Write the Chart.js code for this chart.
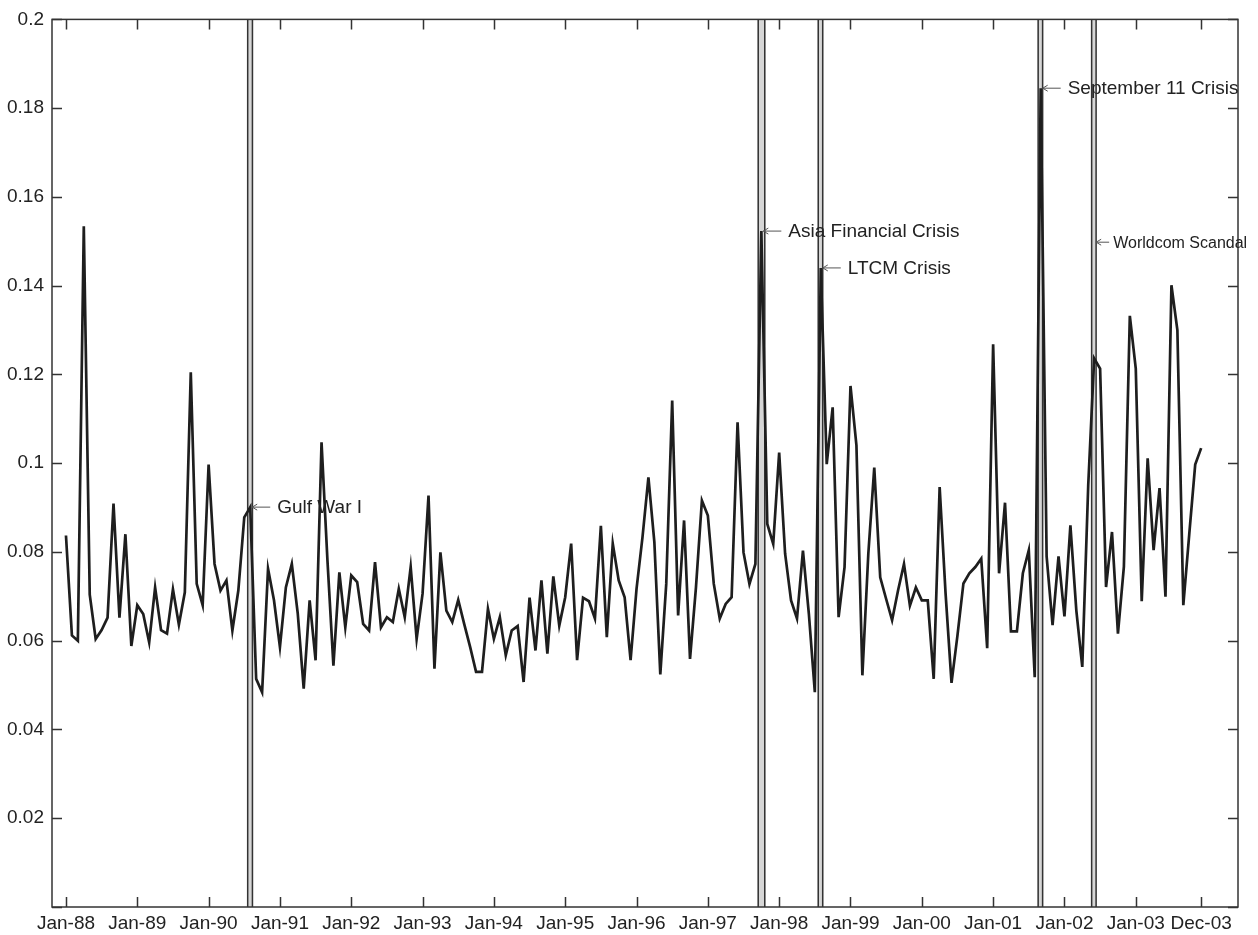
<!DOCTYPE html>
<html>
<head>
<meta charset="utf-8">
<script src="https://cdn.jsdelivr.net/npm/chart.js@4.4.1/dist/chart.umd.min.js"></script>
<style>
body { margin: 0; background: #fff; }
#wrap { width: 1258px; height: 935px; }
</style>
</head>
<body>
<div id="wrap"><canvas id="volChart" width="1258" height="935"></canvas></div>
<script>
// monthly series, Jan-88 .. Dec-03 (192 months)
var vol = [
  0.0837, 0.0612, 0.0600, 0.1534, 0.0704, 0.0604, 0.0624, 0.0652, 0.0909, 0.0652, 0.0840, 0.0588,
  0.0680, 0.0660, 0.0596, 0.0720, 0.0624, 0.0616, 0.0716, 0.0636, 0.0709, 0.1205, 0.0728, 0.0680,
  0.0997, 0.0773, 0.0713, 0.0736, 0.0623, 0.0713, 0.0878, 0.0901, 0.0514, 0.0484, 0.0762, 0.0691,
  0.0586, 0.0720, 0.0773, 0.0661, 0.0492, 0.0691, 0.0556, 0.1047, 0.0780, 0.0544, 0.0754, 0.0630,
  0.0747, 0.0732, 0.0638, 0.0623, 0.0777, 0.0630, 0.0653, 0.0642, 0.0717, 0.0653, 0.0766, 0.0604,
  0.0706, 0.0927, 0.0537, 0.0799, 0.0668, 0.0642, 0.0692, 0.0638, 0.0586, 0.0530, 0.0530, 0.0672,
  0.0604, 0.0653, 0.0567, 0.0623, 0.0633, 0.0507, 0.0697, 0.0578, 0.0736, 0.0571, 0.0745, 0.0634,
  0.0698, 0.0819, 0.0556, 0.0697, 0.0689, 0.0650, 0.0859, 0.0608, 0.0819, 0.0736, 0.0698, 0.0556,
  0.0717, 0.0833, 0.0968, 0.0822, 0.0524, 0.0728, 0.1141, 0.0657, 0.0871, 0.0559, 0.0720, 0.0916,
  0.0882, 0.0728, 0.0650, 0.0683, 0.0698, 0.1092, 0.0799, 0.0728, 0.0773, 0.1523, 0.0863, 0.0818,
  0.1024, 0.0796, 0.0691, 0.0650, 0.0803, 0.0660, 0.0484, 0.1440, 0.0998, 0.1126, 0.0653, 0.0766,
  0.1174, 0.1040, 0.0522, 0.0796, 0.0990, 0.0743, 0.0694, 0.0646, 0.0713, 0.0773, 0.0679, 0.0720,
  0.0691, 0.0691, 0.0514, 0.0946, 0.0706, 0.0505, 0.0612, 0.0729, 0.0752, 0.0766, 0.0785, 0.0583,
  0.1268, 0.0752, 0.0911, 0.0621, 0.0621, 0.0752, 0.0804, 0.0518, 0.1845, 0.0790, 0.0635, 0.0790,
  0.0655, 0.0860, 0.0668, 0.0541, 0.0950, 0.1236, 0.1213, 0.0721, 0.0845, 0.0616, 0.0767, 0.1332,
  0.1213, 0.0689, 0.1011, 0.0804, 0.0944, 0.0699, 0.1401, 0.1300, 0.0680, 0.0840, 0.0997, 0.1034
];

var tickMonths = [0, 12, 24, 36, 48, 60, 72, 84, 96, 108, 120, 132, 144, 156, 168, 180, 191];
var tickLabels = ["Jan-88", "Jan-89", "Jan-90", "Jan-91", "Jan-92", "Jan-93", "Jan-94", "Jan-95",
                  "Jan-96", "Jan-97", "Jan-98", "Jan-99", "Jan-00", "Jan-01", "Jan-02", "Jan-03", "Dec-03"];

// crisis windows (month index)
var bandStart = [30.45, 116.35, 126.45, 163.45, 172.45];
var bandEnd = [31.5, 117.7, 127.45, 164.45, 173.45];

var eventNames = ["Gulf War I", "Asia Financial Crisis", "LTCM Crisis", "September 11 Crisis", "Worldcom Scandal"];
var eventMonth = [31, 117, 127, 164, 173];
var eventLevel = [0.0901, 0.1523, 0.144, 0.1845, 0.1498];

var FONT = '"Liberation Sans", Arial, Helvetica, sans-serif';
var INK = '#222';

var points = vol.map(function (v, i) { return { x: i, y: v }; });

var framePlugin = {
  id: 'frame',
  beforeDatasetsDraw: function (chart) {
    var ctx = chart.ctx, a = chart.chartArea, xs = chart.scales.x;
    ctx.save();
    for (var i = 0; i < bandStart.length; i++) {
      var x0 = xs.getPixelForValue(bandStart[i]);
      var x1 = xs.getPixelForValue(bandEnd[i]);
      ctx.fillStyle = '#d6d6d6';
      ctx.fillRect(x0, a.top, x1 - x0, a.bottom - a.top);
      ctx.strokeStyle = '#333';
      ctx.lineWidth = 1.5;
      ctx.beginPath();
      ctx.moveTo(x0 + 0.75, a.top); ctx.lineTo(x0 + 0.75, a.bottom);
      ctx.moveTo(x1 - 0.75, a.top); ctx.lineTo(x1 - 0.75, a.bottom);
      ctx.stroke();
    }
    ctx.restore();
  },
  afterDraw: function (chart, args, opts) {
    var ctx = chart.ctx, a = chart.chartArea;
    var xs = chart.scales.x, ys = chart.scales.y;
    var tl = 10;
    ctx.save();
    ctx.strokeStyle = '#333';
    ctx.lineWidth = 1.5;
    ctx.strokeRect(a.left, a.top, a.right - a.left, a.bottom - a.top);
    ctx.beginPath();
    ys.ticks.forEach(function (t) {
      var y = Math.round(ys.getPixelForValue(t.value)) + 0.5;
      ctx.moveTo(a.left, y); ctx.lineTo(a.left + tl, y);
      ctx.moveTo(a.right, y); ctx.lineTo(a.right - tl, y);
    });
    tickMonths.forEach(function (m) {
      var x = Math.round(xs.getPixelForValue(m)) + 0.5;
      ctx.moveTo(x, a.bottom); ctx.lineTo(x, a.bottom - tl);
      ctx.moveTo(x, a.top); ctx.lineTo(x, a.top + tl);
    });
    ctx.stroke();

    // event notes
    ctx.textBaseline = 'middle';
    ctx.textAlign = 'left';
    for (var i = 0; i < eventNames.length; i++) {
      var px = xs.getPixelForValue(eventMonth[i]);
      var py = ys.getPixelForValue(eventLevel[i]);
      var size = opts.sizes[i];
      var small = size < 18;
      var tip = px + 2;
      ctx.strokeStyle = '#555';
      ctx.lineWidth = 1;
      ctx.beginPath();
      ctx.moveTo(tip, py); ctx.lineTo(tip + (small ? 13 : 18), py);
      ctx.moveTo(tip + 5, py - 3); ctx.lineTo(tip, py); ctx.lineTo(tip + 5, py + 3);
      ctx.stroke();
      ctx.fillStyle = INK;
      ctx.font = size + 'px ' + FONT;
      ctx.fillText(eventNames[i], px + (small ? 19 : 27), py + 1);
    }
    ctx.restore();
  }
};

var ctx = document.getElementById('volChart').getContext('2d');
var volChart = new Chart(ctx, {
  type: 'line',
  data: {
    datasets: [{
      data: points,
      borderColor: '#1e1e1e',
      borderWidth: 2.7,
      pointRadius: 0,
      tension: 0,
      fill: false
    }]
  },
  options: {
    responsive: false,
    animation: false,
    layout: { padding: { top: 18, right: 20, left: 0, bottom: 0 } },
    plugins: {
      legend: { display: false },
      tooltip: { enabled: false },
      frame: { sizes: [19, 19, 19, 19, 16] }
    },
    scales: {
      x: {
        type: 'linear',
        min: -2.35,
        max: 197.2,
        grid: { display: false, drawTicks: false },
        border: { display: false },
        afterBuildTicks: function (scale) {
          scale.ticks = tickMonths.map(function (m) { return { value: m }; });
        },
        afterFit: function (scale) { scale.height = 28; },
        ticks: {
          autoSkip: false,
          maxRotation: 0,
          padding: 5,
          color: INK,
          font: { family: FONT, size: 19 },
          callback: function (value, index) { return tickLabels[index]; }
        }
      },
      y: {
        min: 0,
        max: 0.2,
        grid: { display: false, drawTicks: false },
        border: { display: false },
        afterFit: function (scale) { scale.width = 52; },
        ticks: {
          stepSize: 0.02,
          padding: 8,
          color: INK,
          font: { family: FONT, size: 19 },
          callback: function (value) {
            if (Math.abs(value) < 1e-9) return '';
            return String(parseFloat(value.toFixed(2)));
          }
        }
      }
    }
  },
  plugins: [framePlugin]
});
</script>
</body>
</html>
